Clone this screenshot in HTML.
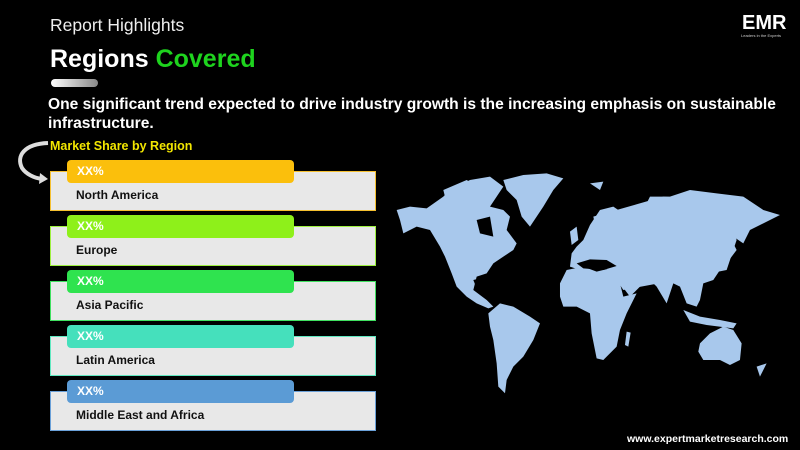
<!DOCTYPE html>
<html><head><meta charset="utf-8"><style>
body{margin:0;width:800px;height:450px;background:#000;position:relative;overflow:hidden;font-family:"Liberation Sans",sans-serif}
.a{position:absolute}
.box{position:absolute;left:50px;width:324px;height:38px;background:#e8e8e8;border:1px solid}
.tab{position:absolute;left:67px;width:227px;height:23px;border-radius:4px;color:#fff;font-weight:bold;font-size:12px;line-height:23px;padding-left:10px;box-sizing:border-box}
.lbl{position:absolute;left:76px;font-size:12px;font-weight:bold;color:#111}
</style></head><body>
<div class="a" style="left:50px;top:15px;font-size:17.5px;color:#eee">Report Highlights</div>
<div class="a" style="left:50px;top:45px;font-size:25px;font-weight:bold;color:#fff">Regions <span style="color:#1ed31e">Covered</span></div>
<div class="a" style="left:51px;top:79px;width:47px;height:8px;border-radius:4px;background:linear-gradient(90deg,#fff,#888)"></div>
<div class="a" style="left:48px;top:95px;font-size:15.6px;font-weight:bold;color:#fff;line-height:19px;width:750px">One significant trend expected to drive industry growth is the increasing emphasis on sustainable infrastructure.</div>
<div class="a" style="left:50px;top:139px;font-size:12.5px;font-weight:bold;color:#f2e600">Market Share by Region</div>
<svg class="a" style="left:14px;top:140px" width="40" height="46"><path d="M34 3 C10 4 2 16 8 28 C12 34 20 38 28 39" fill="none" stroke="#ddd" stroke-width="4"/><path d="M26 33 L34 39 L25 44 Z" fill="#ddd"/></svg>

<div class="box" style="top:171px;border-color:#f5c030"></div><div class="tab" style="top:160px;background:#fbbf0c">XX%</div><div class="lbl" style="top:188px">North America</div>
<div class="box" style="top:226px;border-color:#9ef040"></div><div class="tab" style="top:215px;background:#8ef01a">XX%</div><div class="lbl" style="top:243px">Europe</div>
<div class="box" style="top:281px;border-color:#40e060"></div><div class="tab" style="top:270px;background:#2fe34f">XX%</div><div class="lbl" style="top:298px">Asia Pacific</div>
<div class="box" style="top:336px;border-color:#60e8c0"></div><div class="tab" style="top:325px;background:#45e0bc">XX%</div><div class="lbl" style="top:353px">Latin America</div>
<div class="box" style="top:391px;border-color:#6aa0d8"></div><div class="tab" style="top:380px;background:#5b9bd5">XX%</div><div class="lbl" style="top:408px">Middle East and Africa</div>

<svg class="a" style="left:0;top:0" width="800" height="450">
<g transform="translate(390,160) scale(0.3333)" fill="#a8c8ec">
<path d="M20,150 60,140 110,145 160,110 180,90 240,60 300,50 340,80 320,110 300,140 340,150 360,170 350,210 380,250 370,270 340,290 310,310 290,340 260,350 250,390 290,420 310,440 295,445 260,430 230,410 200,380 185,340 165,290 150,260 120,210 80,200 40,220 30,180Z"/>
<path d="M340,60 400,45 470,40 520,55 490,90 460,140 420,200 395,170 380,120 350,90Z"/>
<path d="M295,460 330,430 370,440 420,470 450,490 430,540 400,590 370,620 350,660 345,700 325,680 320,610 310,540 300,500Z"/>
<path d="M510,370 530,330 580,320 620,335 660,325 690,370 700,410 740,400 710,460 690,510 680,560 640,600 620,595 605,520 600,460 560,440 520,440 510,410Z"/>
<path d="M540,320 545,280 560,260 580,240 600,195 630,150 670,140 700,160 760,150 780,110 840,110 900,90 980,100 1060,110 1120,150 1170,165 1120,190 1080,210 1060,250 1030,230 1020,300 990,330 970,360 940,370 930,420 920,440 890,430 870,380 850,370 830,430 800,380 780,360 750,380 720,410 690,370 670,340 640,320 600,320 570,330Z"/>
<path d="M610,170 820,110 1000,120 1040,240 1010,330 860,360 700,390 660,330 630,260Z"/>
<path d="M930,550 960,520 1000,500 1030,510 1055,550 1050,600 1020,615 990,600 940,600 925,575Z"/>
<path d="M880,450 930,470 990,480 1040,490 1030,505 950,495 900,485Z"/>
<path d="M1000,280 1030,250 1040,270 1010,310Z"/>
<path d="M540,215 560,200 565,240 545,255Z"/>
<path d="M710,515 722,518 715,560 705,555Z"/>
<path d="M1100,620 1130,610 1110,650Z"/>
<path d="M600,70 640,65 630,90Z"/>
<path d="M160,90 230,60 280,90 230,120 170,130Z"/>
</g>
<g transform="translate(390,160) scale(0.3333)" fill="#000">
<path d="M260,180 300,170 310,230 270,220Z"/>
<path d="M560,310 600,298 650,300 680,318 640,330 580,325Z"/>
<path d="M250,360 290,350 300,380 260,385Z"/>
</g>
</svg>
<div class="a" style="left:742px;top:12px;font-size:20px;font-weight:bold;color:#fff">EMR</div>
<div class="a" style="left:741px;top:33px;font-size:4px;color:#ccc">Leaders in the Experts</div>
<div class="a" style="left:627px;top:433px;font-size:10.5px;font-weight:bold;color:#fff">www.expertmarketresearch.com</div>
</body></html>
